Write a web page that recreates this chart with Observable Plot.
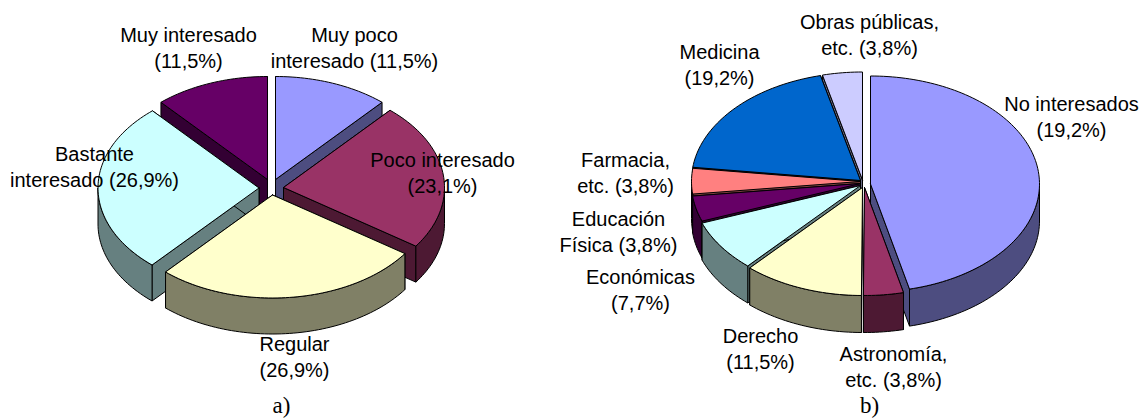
<!DOCTYPE html>
<html><head><meta charset="utf-8">
<script src="https://cdn.jsdelivr.net/npm/d3@7"></script>
<script src="https://cdn.jsdelivr.net/npm/@observablehq/plot@0.6"></script>
<style>html,body{margin:0;padding:0;background:#fff}svg{display:block}</style>
</head><body><div id="chart"></div>
<script>
// Data
const categoriesA = ["Muy poco interesado","Poco interesado","Regular","Bastante interesado","Muy interesado"];
const valuesA = [11.5,23.1,26.9,26.9,11.5];
const labelsA = ["Muy poco\ninteresado (11,5%)","Poco interesado\n(23,1%)","Regular\n(26,9%)","Bastante\ninteresado (26,9%)","Muy interesado\n(11,5%)"];
const categoriesB = ["No interesados","Astronomía","Derecho","Económicas","Educación Física","Farmacia","Medicina","Obras públicas"];
const valuesB = [46.2,3.8,11.5,7.7,3.8,3.8,19.2,3.8];
const labelsB = ["No interesados\n(19,2%)","Astronomía,\netc. (3,8%)","Derecho\n(11,5%)","Económicas\n(7,7%)","Educación\nFísica (3,8%)","Farmacia,\netc. (3,8%)","Medicina\n(19,2%)","Obras públicas,\netc. (3,8%)"];

// Styles
const topA = ["#9999FF","#993366","#FFFFCC","#CCFFFF","#660066"];
const sideA = ["#4D4D80","#4D1933","#808066","#668080","#330033"];
const topB = ["#9999FF","#993366","#FFFFCC","#CCFFFF","#660066","#FF8080","#0066CC","#CCCCFF"];
const sideB = ["#4D4D80","#4D1933","#808066","#668080","#330033","#804040","#003366","#666680"];

// Layout
const pieA = {rx:161, ry:103, depth:36,
  apexes:[[275,179],[283,187],[272,194.5],[258.5,187.5],[267,179]],
  order:[0,4,1,3,2],
  labelAt:[[354,46.5],[442,171.5],[294,355.5],[94,165.5],[188,46.5]]};
const pieB = {rx:169, ry:108, depth:37,
  apexes:[[870,183.5],[864,187],[862,187],[860,185],[860,183],[860,181],[860,180],[862,179.5]],
  order:[7,6,5,4,3,0,1,2],
  labelAt:[[1071,115.5],[893,365.5],[760,347.5],[640,288.5],[618,230.5],[625,171.5],[719,63.5],[869,33.5]]};
const captions = [{t:"a)",x:281,y:405.5},{t:"b)",x:869,y:405.5}];

function arc(c,rx,ry,a,b,dz=0){
  const n = Math.max(2,Math.ceil(Math.abs(b-a)/(Math.PI/120)));
  return d3.range(n+1).map(i=>{
    const t=a+(b-a)*i/n;
    return {x:c[0]+rx*Math.sin(t), y:c[1]-ry*Math.cos(t)+dz};
  });
}
function faces(values,tops,sides,g){
  const arcs = d3.pie().sort(null)(values);
  const out=[];
  for(const i of g.order){
    const {startAngle:a,endAngle:b}=arcs[i], c=g.apexes[i];
    const p={x:c[0],y:c[1]};
    for(const t of [a,b]){
      const e=arc(c,g.rx,g.ry,t,t,0)[0];
      out.push({pts:[p,e,{x:e.x,y:e.y+g.depth},{x:p.x,y:p.y+g.depth},p],fill:sides[i]});
    }
    const f0=Math.max(a,Math.PI/2), f1=Math.min(b,Math.PI*1.5);
    if(f1>f0){
      const front=arc(c,g.rx,g.ry,f0,f1,0), low=arc(c,g.rx,g.ry,f1,f0,g.depth);
      out.push({pts:[...front,...low,front[0]],fill:sides[i]});
    }
    const rim=arc(c,g.rx,g.ry,a,b,0);
    out.push({pts:[p,...rim,p],fill:tops[i]});
  }
  return out;
}
const allFaces=[...faces(valuesA,topA,sideA,pieA),...faces(valuesB,topB,sideB,pieB)];
const labelRows=[...labelsA.map((t,i)=>({t,x:pieA.labelAt[i][0],y:pieA.labelAt[i][1]})),
                 ...labelsB.map((t,i)=>({t,x:pieB.labelAt[i][0],y:pieB.labelAt[i][1]}))];

const chart=Plot.plot({
  width:1144,height:419,margin:0,
  x:{domain:[0,1144],range:[0,1144],axis:null},
  y:{domain:[0,419],range:[0,419],axis:null},
  marks:[
    ...allFaces.map(f=>Plot.line(f.pts,{x:"x",y:"y",fill:f.fill,stroke:"#000",strokeWidth:1,strokeLinejoin:"round",curve:"linear"})),
    Plot.text(labelRows,{x:"x",y:"y",text:"t",fontSize:20,lineHeight:1.27,fontFamily:"'Liberation Sans',Arial,sans-serif",fill:"#000",textAnchor:"middle"}),
    Plot.text(captions,{x:"x",y:"y",text:"t",fontSize:23,fontFamily:"'Liberation Serif','Times New Roman',serif",fill:"#000",textAnchor:"middle"})
  ]
});
document.getElementById("chart").append(chart);
</script></body></html>
